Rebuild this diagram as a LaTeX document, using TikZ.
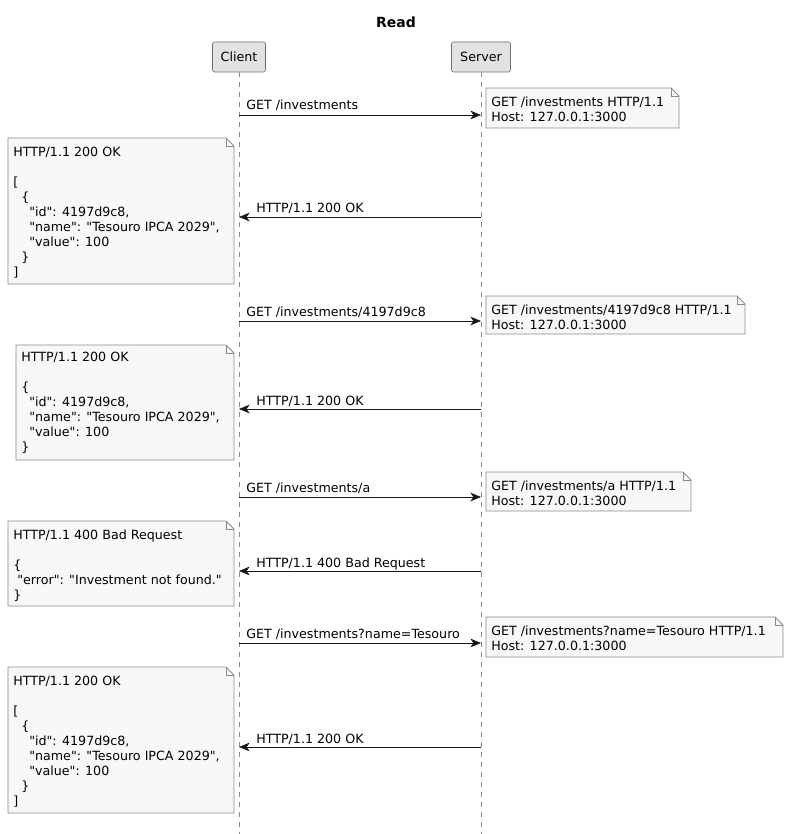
\documentclass[tikz,border=0pt]{standalone}
\usepackage{fontspec}
\setmainfont{DejaVu Sans}
\usetikzlibrary{arrows.meta,positioning}
\definecolor{partfill}{HTML}{E2E2E2}
\definecolor{partline}{HTML}{6E6E6E}
\definecolor{notefill}{HTML}{F8F8F8}
\definecolor{noteline}{HTML}{8A8A8A}
\definecolor{lifeline}{HTML}{8C8C8C}
\definecolor{msgline}{HTML}{181818}
\tikzset{
  txt/.style={font=\fontsize{9.5pt}{11.25pt}\selectfont,inner sep=0pt},
  part/.style={txt,draw=partline,fill=partfill,rounded corners=1.5pt,minimum height=22.5pt},
  life/.style={draw=lifeline,dash pattern=on 3.75pt off 3.75pt},
  msg/.style={draw=msgline,-{Stealth[length=8pt,width=6.5pt,inset=2.4pt]}},
  lbl/.style={txt,anchor=base west},
  notetext/.style={txt,anchor=north west,align=left},
  noteshape/.style={draw=noteline,fill=notefill,line width=0.6pt}
}
% folded note: left, top, right, bottom
\newcommand{\notebox}[4]{%
  \draw[noteshape] (#1,#2) -- (#3-8,#2) -- (#3,#2+8) -- (#3,#4) -- (#1,#4) -- cycle;
  \draw[noteshape,fill=none] (#3-8,#2) -- (#3-8,#2+8) -- (#3,#2+8);}
\newcommand{\ind}[1]{\hspace*{#1}}
% straight double quote, from a font loaded without the TeX mapping
\font\qfont="DejaVu Sans" at 9.5pt
\newcommand{\dq}{{\qfont\char34}}
\begin{document}
\begin{tikzpicture}[x=0.75pt,y=-0.75pt]
\useasboundingbox (0,0) rectangle (790,834);
\node[txt,font=\fontsize{10.5pt}{12pt}\selectfont\bfseries] (title) at (396,22) {Read};
% participants and lifelines
\node[part,minimum width=39.75pt] (client) at (239,57) {Client};
\node[part,minimum width=44.25pt] (server) at (481,57) {Server};
\coordinate (clientend) at (239,834);
\coordinate (serverend) at (481,834);
\draw[life] (client) -- (clientend);
\draw[life] (server) -- (serverend);
\foreach \y [count=\i] in {115,217,321,409,497,571,643,747} {
  \coordinate (c\i) at (239,\y);
  \coordinate (s\i) at (481,\y);
}
% requests
\draw[msg] (c1) -- (s1);
\node[lbl] (m1) at (246,110) {GET /investments};
\draw[msg] (c3) -- (s3);
\node[lbl] (m3) at (246,316) {GET /investments/4197d9c8};
\draw[msg] (c5) -- (s5);
\node[lbl] (m5) at (246,492) {GET /investments/a};
\draw[msg] (c7) -- (s7);
\node[lbl] (m7) at (246,638) {GET /investments?name=Tesouro};
% responses
\draw[msg] (s2) -- (c2);
\node[lbl] (r2) at (256,213) {HTTP/1.1 200 OK};
\draw[msg] (s4) -- (c4);
\node[lbl] (r4) at (256,405) {HTTP/1.1 200 OK};
\draw[msg] (s6) -- (c6);
\node[lbl] (r6) at (256,567) {HTTP/1.1 400 Bad Request};
\draw[msg] (s8) -- (c8);
\node[lbl] (r8) at (256,743) {HTTP/1.1 200 OK};
% notes on the server side
\notebox{486}{88}{679}{128}
\node[notetext] (n1) at (491,97) {GET /investments HTTP/1.1\\Host: 127.0.0.1:3000};
\notebox{486}{296}{745}{334}
\node[notetext] (n3) at (491,305) {GET /investments/4197d9c8 HTTP/1.1\\Host: 127.0.0.1:3000};
\notebox{486}{472}{691}{511}
\node[notetext] (n5) at (491,481) {GET /investments/a HTTP/1.1\\Host: 127.0.0.1:3000};
\notebox{486}{617}{783}{657}
\node[notetext] (n7) at (491,626) {GET /investments?name=Tesouro HTTP/1.1\\Host: 127.0.0.1:3000};
% notes on the client side
\notebox{8}{138}{234}{284}
\node[notetext] (n2) at (13,147) {HTTP/1.1 200 OK\\[11.25pt]{[}\\\ind{6pt}\{\\\ind{12pt}\dq id\dq: 4197d9c8,\\\ind{12pt}\dq name\dq: \dq Tesouro IPCA 2029\dq,\\\ind{12pt}\dq value\dq: 100\\\ind{6pt}\}\\{]}};
\notebox{16}{345}{234}{460}
\node[notetext] (n4) at (21,352) {HTTP/1.1 200 OK\\[11.25pt]\{\\\ind{6pt}\dq id\dq: 4197d9c8,\\\ind{6pt}\dq name\dq: \dq Tesouro IPCA 2029\dq,\\\ind{6pt}\dq value\dq: 100\\\}};
\notebox{8}{521}{234}{606}
\node[notetext] (n6) at (13,530) {HTTP/1.1 400 Bad Request\\[11.25pt]\{\\\ind{3pt}\dq error\dq: \dq Investment not found.\dq\\\}};
\notebox{8}{667}{234}{813}
\node[notetext] (n8) at (13,676) {HTTP/1.1 200 OK\\[11.25pt]{[}\\\ind{6pt}\{\\\ind{12pt}\dq id\dq: 4197d9c8,\\\ind{12pt}\dq name\dq: \dq Tesouro IPCA 2029\dq,\\\ind{12pt}\dq value\dq: 100\\\ind{6pt}\}\\{]}};
\end{tikzpicture}
\end{document}
